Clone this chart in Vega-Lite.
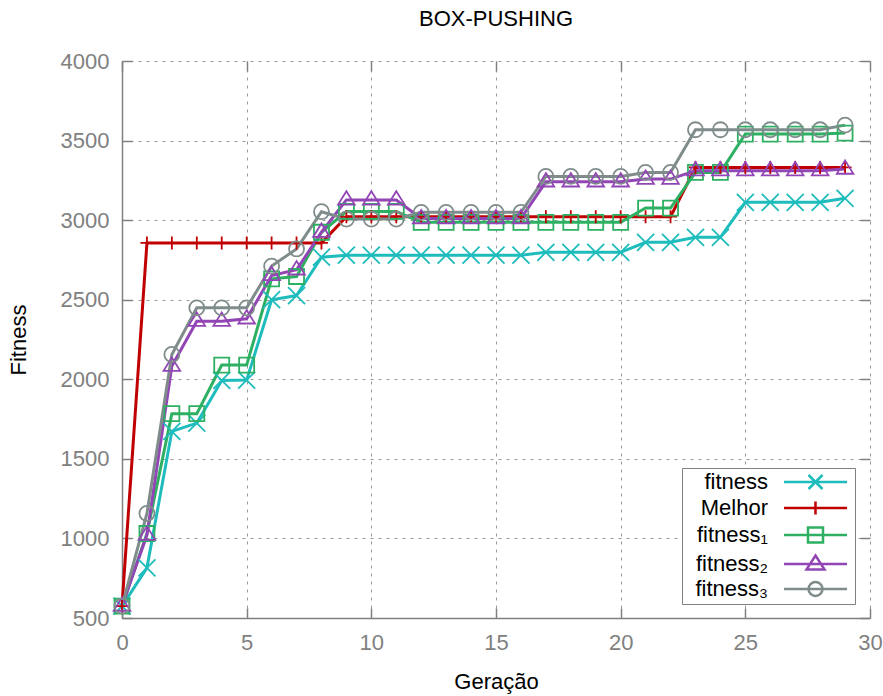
{
  "$schema": "https://vega.github.io/schema/vega-lite/v6.json",
  "width": 748,
  "height": 557,
  "autosize": {"type": "none"},
  "padding": {"left": 122, "top": 61, "right": 13, "bottom": 78},
  "background": "white",
  "title": {"text": "BOX-PUSHING", "fontSize": 22, "font": "Liberation Sans", "fontWeight": "normal", "color": "black", "anchor": "middle", "offset": 19},
  "config": {
    "font": "Liberation Sans",
    "view": {"stroke": null}
  },
  "data": {"values": [
    {"g": 0, "fitness": 575, "Melhor": 575, "fitness₁": 575, "fitness₂": 575, "fitness₃": 575},
    {"g": 1, "fitness": 815, "Melhor": 2857, "fitness₁": 1031, "fitness₂": 1021, "fitness₃": 1157},
    {"g": 2, "fitness": 1673, "Melhor": 2857, "fitness₁": 1784, "fitness₂": 2083, "fitness₃": 2156},
    {"g": 3, "fitness": 1725, "Melhor": 2857, "fitness₁": 1784, "fitness₂": 2365, "fitness₃": 2449},
    {"g": 4, "fitness": 1993, "Melhor": 2857, "fitness₁": 2089, "fitness₂": 2365, "fitness₃": 2449},
    {"g": 5, "fitness": 1995, "Melhor": 2857, "fitness₁": 2089, "fitness₂": 2380, "fitness₃": 2449},
    {"g": 6, "fitness": 2500, "Melhor": 2857, "fitness₁": 2631, "fitness₂": 2652, "fitness₃": 2711},
    {"g": 7, "fitness": 2526, "Melhor": 2857, "fitness₁": 2646, "fitness₂": 2688, "fitness₃": 2819},
    {"g": 8, "fitness": 2767, "Melhor": 2857, "fitness₁": 2924, "fitness₂": 2924, "fitness₃": 3053},
    {"g": 9, "fitness": 2780, "Melhor": 3022, "fitness₁": 3055, "fitness₂": 3127, "fitness₃": 3007},
    {"g": 10, "fitness": 2780, "Melhor": 3022, "fitness₁": 3055, "fitness₂": 3127, "fitness₃": 3007},
    {"g": 11, "fitness": 2780, "Melhor": 3022, "fitness₁": 3055, "fitness₂": 3127, "fitness₃": 3007},
    {"g": 12, "fitness": 2780, "Melhor": 3022, "fitness₁": 2986, "fitness₂": 3010, "fitness₃": 3049},
    {"g": 13, "fitness": 2780, "Melhor": 3022, "fitness₁": 2986, "fitness₂": 3010, "fitness₃": 3049},
    {"g": 14, "fitness": 2780, "Melhor": 3022, "fitness₁": 2986, "fitness₂": 3010, "fitness₃": 3049},
    {"g": 15, "fitness": 2780, "Melhor": 3022, "fitness₁": 2986, "fitness₂": 3010, "fitness₃": 3049},
    {"g": 16, "fitness": 2780, "Melhor": 3022, "fitness₁": 2986, "fitness₂": 3010, "fitness₃": 3049},
    {"g": 17, "fitness": 2798, "Melhor": 3022, "fitness₁": 2986, "fitness₂": 3241, "fitness₃": 3275},
    {"g": 18, "fitness": 2798, "Melhor": 3022, "fitness₁": 2986, "fitness₂": 3241, "fitness₃": 3275},
    {"g": 19, "fitness": 2798, "Melhor": 3022, "fitness₁": 2986, "fitness₂": 3241, "fitness₃": 3275},
    {"g": 20, "fitness": 2798, "Melhor": 3022, "fitness₁": 2986, "fitness₂": 3241, "fitness₃": 3275},
    {"g": 21, "fitness": 2861, "Melhor": 3022, "fitness₁": 3076, "fitness₂": 3258, "fitness₃": 3300},
    {"g": 22, "fitness": 2861, "Melhor": 3022, "fitness₁": 3076, "fitness₂": 3258, "fitness₃": 3300},
    {"g": 23, "fitness": 2892, "Melhor": 3331, "fitness₁": 3300, "fitness₂": 3311, "fitness₃": 3568},
    {"g": 24, "fitness": 2892, "Melhor": 3331, "fitness₁": 3300, "fitness₂": 3311, "fitness₃": 3568},
    {"g": 25, "fitness": 3112, "Melhor": 3331, "fitness₁": 3541, "fitness₂": 3311, "fitness₃": 3568},
    {"g": 26, "fitness": 3112, "Melhor": 3331, "fitness₁": 3541, "fitness₂": 3311, "fitness₃": 3568},
    {"g": 27, "fitness": 3112, "Melhor": 3331, "fitness₁": 3541, "fitness₂": 3311, "fitness₃": 3568},
    {"g": 28, "fitness": 3112, "Melhor": 3331, "fitness₁": 3541, "fitness₂": 3311, "fitness₃": 3568},
    {"g": 29, "fitness": 3137, "Melhor": 3331, "fitness₁": 3547, "fitness₂": 3321, "fitness₃": 3597}
  ]},
  "transform": [{"fold": ["fitness", "Melhor", "fitness₁", "fitness₂", "fitness₃"], "as": ["s", "v"]}],
  "encoding": {
    "x": {"field": "g", "type": "quantitative", "scale": {"domain": [0, 30], "nice": false}, "axis": null},
    "y": {"field": "v", "type": "quantitative", "scale": {"domain": [500, 4000], "nice": false, "zero": false}, "axis": null},
    "color": {"field": "s", "type": "nominal",
      "scale": {"domain": ["fitness", "Melhor", "fitness₁", "fitness₂", "fitness₃"], "range": ["#1ebcbc", "#c00000", "#2db062", "#9245b4", "#808c8c"]},
      "legend": {"title": null, "orient": "none", "legendX": 560, "legendY": 407, "fillColor": "white", "strokeColor": "#808080", "padding": 3,
        "labelFontSize": 22, "labelFont": "Liberation Sans", "labelColor": "black", "labelAlign": "right", "labelOffset": 61, "labelLimit": 0,
        "symbolSize": 4, "symbolStrokeWidth": 2.5, "rowPadding": 2,
        "encode": {"symbols": {"update": {
          "shape": {"signal": "datum.value === 'fitness' ? 'M88,0H151M112.5,-7L126.5,7M112.5,7L126.5,-7' : datum.value === 'Melhor' ? 'M88,0H151M119.5,-6.5V6.5' : datum.value === 'fitness₁' ? 'M88,0H151M112,-7.5H127V7.5H112Z' : datum.value === 'fitness₂' ? 'M88,0H151M119.5,-8.5L128.5,5.5H110.5Z' : 'M88,0H151M126.5,0A7,7,0,1,1,112.5,0A7,7,0,1,1,126.5,0Z'"},
          "fill": {"value": "transparent"}
        }}}}}
  },
  "layer": [
    {"mark": {"type": "line", "strokeWidth": 3},
      "encoding": {
        "x": {"field": "g", "type": "quantitative", "scale": {"domain": [0, 30], "nice": false},
          "axis": {"values": [0, 5, 10, 15, 20, 25, 30], "grid": true, "gridDash": [3, 5], "gridColor": "#999999", "gridWidth": 1,
            "domainColor": "#808080", "domainWidth": 1.5, "tickColor": "#808080", "tickWidth": 1.5, "tickSize": -10,
            "labelFontSize": 22, "labelColor": "#808080", "labelPadding": 24, "labelFlush": false,
            "title": "Geração", "titleFontSize": 22, "titleFontWeight": "normal", "titleColor": "black", "titlePadding": 18}},
        "y": {"field": "v", "type": "quantitative", "scale": {"domain": [500, 4000], "nice": false, "zero": false},
          "axis": {"values": [500, 1000, 1500, 2000, 2500, 3000, 3500, 4000], "format": "d", "grid": true, "gridDash": [3, 5], "gridColor": "#999999", "gridWidth": 1,
            "domainColor": "#808080", "domainWidth": 1.5, "tickColor": "#808080", "tickWidth": 1.5, "tickSize": -10,
            "labelFontSize": 22, "labelColor": "#808080", "labelPadding": 23, "labelFlush": false,
            "title": "Fitness", "titleFontSize": 22, "titleFontWeight": "normal", "titleColor": "black", "titlePadding": 30}}
      }},
    {"transform": [{"filter": "datum.s === 'fitness'"}],
      "mark": {"type": "point", "filled": false, "size": 4, "strokeWidth": 1.8, "opacity": 1, "shape": "M-8.5,-8.5L8.5,8.5M-8.5,8.5L8.5,-8.5"},
      "encoding": {
        "x": {"field": "g", "type": "quantitative", "scale": {"domain": [0, 30], "nice": false},
          "axis": {"orient": "top", "values": [0, 5, 10, 15, 20, 25, 30], "labels": false, "grid": false, "domain": false, "ticks": true, "tickSize": -10, "tickColor": "#808080", "tickWidth": 1.5, "title": null}},
        "y": {"field": "v", "type": "quantitative", "scale": {"domain": [500, 4000], "nice": false, "zero": false},
          "axis": {"orient": "right", "values": [500, 1000, 1500, 2000, 2500, 3000, 3500, 4000], "labels": false, "grid": false, "domain": false, "ticks": true, "tickSize": -10, "tickColor": "#808080", "tickWidth": 1.5, "title": null}}
      }},
    {"transform": [{"filter": "datum.s === 'Melhor'"}],
      "mark": {"type": "point", "filled": false, "size": 4, "strokeWidth": 1.8, "opacity": 1, "shape": "M-6.5,0H6.5M0,-6.5V6.5"}},
    {"transform": [{"filter": "datum.s === 'fitness₁'"}],
      "mark": {"type": "point", "filled": false, "size": 4, "strokeWidth": 1.8, "opacity": 1, "shape": "M-7.5,-7.5H7.5V7.5H-7.5Z"}},
    {"transform": [{"filter": "datum.s === 'fitness₂'"}],
      "mark": {"type": "point", "filled": false, "size": 4, "strokeWidth": 1.8, "opacity": 1, "shape": "M0,-8.7L8.3,4.7H-8.3Z"}},
    {"transform": [{"filter": "datum.s === 'fitness₃'"}],
      "mark": {"type": "point", "filled": false, "size": 4, "strokeWidth": 1.8, "opacity": 1, "shape": "M7.5,0A7.5,7.5,0,1,1,-7.5,0A7.5,7.5,0,1,1,7.5,0Z"}}
  ],
  "resolve": {"axis": {"x": "independent", "y": "independent"}}
}
